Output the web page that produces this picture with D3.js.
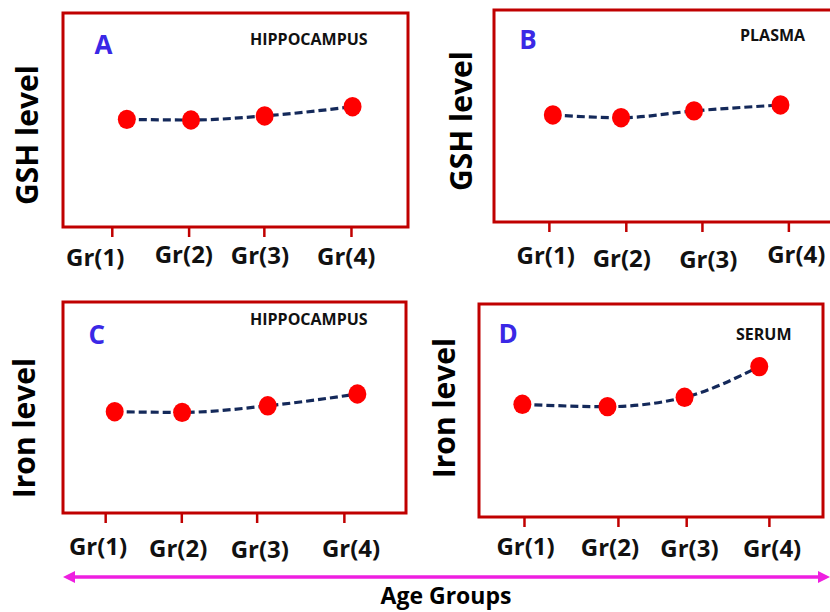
<!DOCTYPE html>
<html>
<head>
<meta charset="utf-8">
<script src="https://cdn.jsdelivr.net/npm/d3@7/dist/d3.min.js"></script>
<style>
  html, body { margin: 0; padding: 0; background: #fff; }
  svg { display: block; }
  text { font-family: "Open Sans", "DejaVu Sans", sans-serif; font-weight: bold; }
</style>
</head>
<body>
<svg id="chart" width="830" height="612"></svg>
<script>
// ---- data (arbitrary level units 0-100) ----
const groups = ["Gr(1)", "Gr(2)", "Gr(3)", "Gr(4)"];

const gshHippocampus   = [50.3, 50.0, 51.9, 56.2];
const gshPlasma        = [50.5, 49.2, 52.4, 55.2];
const ironHippocampus  = [48.0, 47.7, 50.8, 56.4];
const ironSerum        = [52.9, 51.8, 56.2, 70.6];

// positions along the group axis (group units) of points, ticks and labels
const pointPosA = [1.21, 2.02, 2.95, 4.06];
const pointPosB = [1.07, 1.93, 2.85, 3.94];
const pointPosC = [1.15, 2.00, 3.08, 4.21];
const pointPosD = [0.92, 1.98, 2.94, 3.87];

const tickPosA = [1.02, 1.99, 2.94, 4.04];
const tickPosB = [1.02, 1.99, 2.95, 4.04];
const tickPosC = [1.03, 1.99, 2.94, 4.04];
const tickPosD = [0.94, 2.11, 2.96, 3.99];

const labelPosA = [0.81, 1.93, 2.89, 3.98];
const labelPosB = [0.98, 1.94, 3.03, 4.14];
const labelPosC = [0.94, 1.95, 2.98, 4.13];
const labelPosD = [0.96, 2.01, 3.00, 4.03];

const panelLetters = ["A", "B", "C", "D"];
const panelTitles  = ["HIPPOCAMPUS", "PLASMA", "HIPPOCAMPUS", "SERUM"];
const yTitles      = ["GSH level", "GSH level", "Iron level", "Iron level"];
const bottomTitle  = "Age Groups";

// ---- layout ----
const layouts = [
  { left: 63,  right: 408, top: 13,  bottom: 227, g1: 110.2, g4: 347.8,
    labelBase: [266, 263, 264, 265], letter: [103.5, 54], title: [250, 44.5], yt: [38, 135] },
  { left: 494, right: 834, top: 10,  bottom: 222, g1: 547.3, g4: 785.2,
    labelBase: [264, 267, 268, 263], letter: [528, 49], title: [740, 41], yt: [472, 121] },
  { left: 63,  right: 406, top: 302, bottom: 513, g1: 102.8, g4: 340.7,
    labelBase: [555, 557, 558, 557], letter: [96.7, 344], title: [250, 325], yt: [35, 428] },
  { left: 479, right: 823, top: 304, bottom: 517, g1: 528.8, g4: 769.7,
    labelBase: [555, 556, 557, 557], letter: [508, 343], title: [736, 339.5], yt: [455, 408] }
];

const panels = [
  { values: gshHippocampus,  pts: pointPosA, ticks: tickPosA, labels: labelPosA },
  { values: gshPlasma,       pts: pointPosB, ticks: tickPosB, labels: labelPosB },
  { values: ironHippocampus, pts: pointPosC, ticks: tickPosC, labels: labelPosC },
  { values: ironSerum,       pts: pointPosD, ticks: tickPosD, labels: labelPosD }
];

const boxColor = "#c00000";
const dotColor = "#ff0000";
const lineColor = "#14295a";
const letterColor = "#3a28e6";
const arrowColor = "#ee1fe0";

const svg = d3.select("#chart");

panels.forEach((p, i) => {
  const L = layouts[i];
  const x = d3.scaleLinear().domain([1, 4]).range([L.g1, L.g4]);
  const y = d3.scaleLinear().domain([0, 100]).range([L.bottom, L.top]);
  const g = svg.append("g");

  // frame
  g.append("rect")
    .attr("x", L.left).attr("y", L.top)
    .attr("width", L.right - L.left).attr("height", L.bottom - L.top)
    .attr("fill", "none").attr("stroke", boxColor).attr("stroke-width", 3);

  // ticks (via d3 axis)
  const axis = d3.axisBottom(x).tickValues(p.ticks).tickSize(10).tickFormat("");
  const ax = g.append("g").attr("transform", `translate(0,${L.bottom})`).call(axis);
  ax.select(".domain").remove();
  ax.selectAll(".tick line").attr("stroke", boxColor).attr("stroke-width", 2.5);

  // tick labels
  g.selectAll(".glab").data(groups).enter().append("text")
    .attr("x", (d, k) => x(p.labels[k]))
    .attr("y", (d, k) => L.labelBase[k])
    .attr("text-anchor", "middle")
    .attr("font-size", 24)
    .attr("fill", "#111")
    .text(d => d);

  // dashed curve
  const data = p.values.map((v, k) => ({ gx: p.pts[k], v }));
  const line = d3.line().x(d => x(d.gx)).y(d => y(d.v)).curve(d3.curveMonotoneX);
  g.append("path").datum(data)
    .attr("d", line)
    .attr("fill", "none")
    .attr("stroke", lineColor)
    .attr("stroke-width", 3.2)
    .attr("stroke-dasharray", "8,4");

  // dots
  g.selectAll(".dot").data(data).enter().append("ellipse")
    .attr("cx", d => x(d.gx)).attr("cy", d => y(d.v))
    .attr("rx", 9).attr("ry", 9.7)
    .attr("fill", dotColor);

  // panel letter
  g.append("text")
    .attr("x", L.letter[0]).attr("y", L.letter[1])
    .attr("text-anchor", "middle")
    .attr("font-size", 26)
    .attr("fill", letterColor)
    .text(panelLetters[i]);

  // panel title
  g.append("text")
    .attr("x", L.title[0]).attr("y", L.title[1])
    .attr("font-size", 16)
    .attr("fill", "#111")
    .text(panelTitles[i]);

  // y title
  g.append("text")
    .attr("transform", `translate(${L.yt[0]},${L.yt[1]}) rotate(-90)`)
    .attr("text-anchor", "middle")
    .attr("font-size", 30)
    .attr("fill", "#000")
    .text(yTitles[i]);
});

// double-headed arrow
const arrowY = 577, arrowX0 = 63, arrowX1 = 830;
svg.append("line")
  .attr("x1", arrowX0 + 8).attr("x2", arrowX1 - 8)
  .attr("y1", arrowY).attr("y2", arrowY)
  .attr("stroke", arrowColor).attr("stroke-width", 3.5);
svg.append("path")
  .attr("d", `M${arrowX0},${arrowY} L${arrowX0 + 12},${arrowY - 6} L${arrowX0 + 12},${arrowY + 6} Z`)
  .attr("fill", arrowColor);
svg.append("path")
  .attr("d", `M${arrowX1},${arrowY} L${arrowX1 - 12},${arrowY - 6} L${arrowX1 - 12},${arrowY + 6} Z`)
  .attr("fill", arrowColor);

svg.append("text")
  .attr("x", 446).attr("y", 604)
  .attr("text-anchor", "middle")
  .attr("font-size", 23)
  .attr("fill", "#000")
  .text(bottomTitle);
</script>
</body>
</html>
